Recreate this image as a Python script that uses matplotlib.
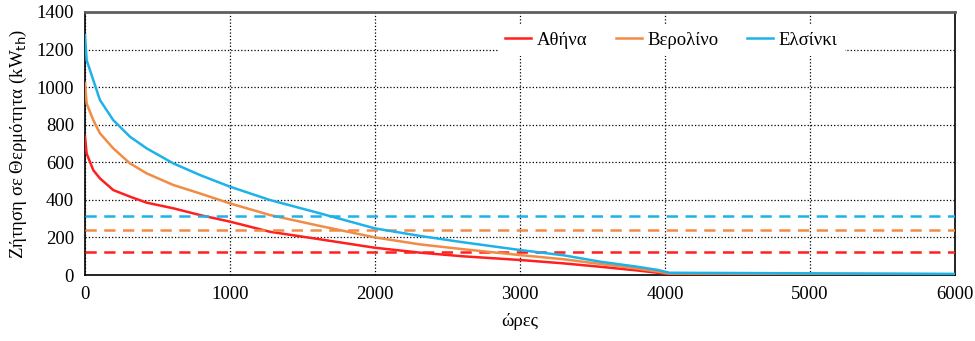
import matplotlib.pyplot as plt

# Καμπύλες διάρκειας θερμικού φορτίου (ώρες ταξινομημένες κατά φθίνουσα ζήτηση)
hours = [0, 11, 57, 103, 195, 310, 425, 609, 793, 1000, 1276, 1621, 2000,
         2310, 2600, 3000, 3300, 3552, 3800, 3950, 4030, 5000, 6000]

load_ath = [736, 647, 558, 514, 452, 417, 385, 355, 319, 284, 230, 190, 145,
            119, 100, 80, 62, 44, 25, 12, 4, 3, 2]
load_ber = [1020, 913, 824, 754, 674, 594, 541, 479, 434, 381, 319, 261, 200,
            163, 138, 106, 84, 59, 35, 18, 8, 6, 4]
load_hel = [1277, 1144, 1037, 931, 824, 736, 674, 594, 532, 470, 399, 328, 248,
            208, 175, 133, 105, 71, 45, 27, 12, 9, 6]

# Οριζόντιες γραμμές (διακεκομμένες) για κάθε πόλη
base_ath = 120
base_ber = 240
base_hel = 315

cities = ['Αθήνα', 'Βερολίνο', 'Ελσίνκι']
colors = ['#FF1F1F', '#F08C46', '#1DB2E8']

plt.rcParams['font.family'] = ['Liberation Serif', 'DejaVu Serif']

fig = plt.figure(figsize=(9.75, 3.41), dpi=100)
ax = fig.add_axes([0.0872, 0.1935, 0.8923, 0.7715])

series = [(load_ath, base_ath), (load_ber, base_ber), (load_hel, base_hel)]
for (v, b), name, c in zip(series, cities, colors):
    ax.plot(hours, v, color=c, lw=1.8, label=name, zorder=3)
    ax.axhline(b, color=c, lw=1.8, ls=(0, (4.5, 3)), zorder=3)

ax.set_xlim(0, 6000)
ax.set_ylim(0, 1400)
ax.set_xticks(range(0, 6001, 1000))
ax.set_yticks(range(0, 1401, 200))
ax.grid(True, color='black', ls=':', lw=0.9)
ax.tick_params(length=0, labelsize=13.5, pad=8)

for side in ['left', 'bottom', 'right']:
    ax.spines[side].set_color('black')
    ax.spines[side].set_linewidth(1.2)
ax.spines['top'].set_color('#5f5f5f')
ax.spines['top'].set_linewidth(2)

ax.set_xlabel('ώρες', fontsize=13.5, labelpad=7)
ax.set_ylabel('Ζήτηση σε Θερμότητα (kW$_{\\mathrm{th}}$)', fontsize=13.5, labelpad=5)

leg = ax.legend(loc='upper right', bbox_to_anchor=(0.88, 0.975), ncol=3,
                fontsize=13.5, handlelength=1.4, handletextpad=0.3,
                columnspacing=1.5, frameon=True, fancybox=False,
                borderaxespad=0.3)
leg.get_frame().set_edgecolor('none')
leg.get_frame().set_facecolor('white')
leg.get_frame().set_alpha(1)

fig.savefig('out.png', dpi=100)
